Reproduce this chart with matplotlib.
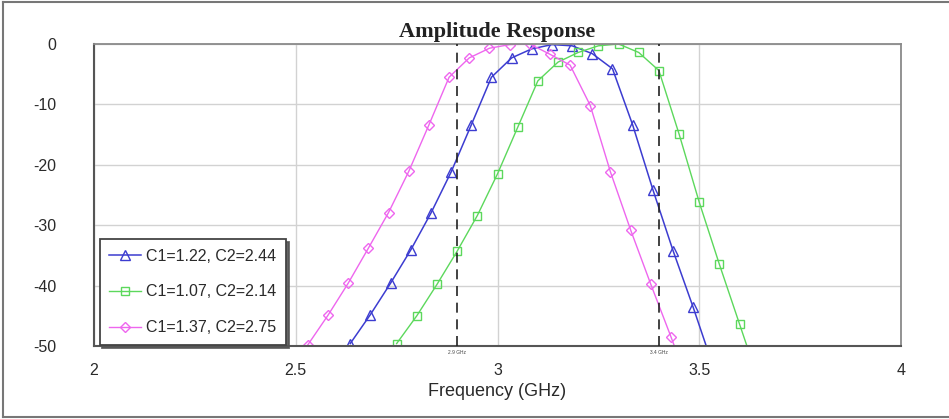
import matplotlib
matplotlib.use("Agg")
import matplotlib.pyplot as plt
from matplotlib.lines import Line2D
import matplotlib.transforms as mtransforms

# curve data (GHz, dB)
freq_blue = [2.635, 2.685, 2.735, 2.785, 2.835, 2.885, 2.935, 2.985, 3.035, 3.085,
             3.135, 3.185, 3.235, 3.285, 3.335, 3.385, 3.435, 3.485, 3.535]
amp_blue = [-49.6, -44.8, -39.6, -34.1, -28.0, -21.2, -13.4, -5.5, -2.3, -0.8,
            -0.1, -0.3, -1.6, -4.1, -13.4, -24.1, -34.2, -43.6, -53.5]

freq_green = [2.75, 2.80, 2.85, 2.90, 2.95, 3.00, 3.05, 3.10, 3.15, 3.20,
              3.25, 3.30, 3.35, 3.40, 3.45, 3.50, 3.55, 3.60, 3.65]
amp_green = [-49.6, -45.0, -39.8, -34.3, -28.4, -21.5, -13.8, -6.1, -3.0, -1.4,
             -0.3, 0.0, -1.4, -4.4, -14.9, -26.2, -36.5, -46.4, -56.3]

freq_pink = [2.53, 2.58, 2.63, 2.68, 2.73, 2.78, 2.83, 2.88, 2.93, 2.98,
             3.03, 3.08, 3.13, 3.18, 3.23, 3.28, 3.33, 3.38, 3.43, 3.48]
amp_pink = [-49.8, -44.9, -39.6, -33.8, -27.9, -21.1, -13.4, -5.5, -2.3, -0.7,
            -0.1, 0.0, -1.7, -3.5, -10.2, -21.2, -30.8, -39.8, -48.5, -57.5]

labels = ["C1=1.22, C2=2.44", "C1=1.07, C2=2.14", "C1=1.37, C2=2.75"]
marker_freqs = [2.9, 3.4]
marker_labels = ["2.9 GHz", "3.4 GHz"]
xticks = [2, 2.5, 3, 3.5, 4]
xticklabels = ["2", "2.5", "3", "3.5", "4"]
yticks = [0, -10, -20, -30, -40, -50]

plt.rcParams["font.family"] = ["Liberation Sans", "DejaVu Sans"]
plt.rcParams["axes.unicode_minus"] = False

fig = plt.figure(figsize=(9.49, 4.19), dpi=100)
ax = fig.add_axes([94 / 949, 1 - 346 / 419, 807 / 949, 302 / 419])

ax.plot(freq_blue, amp_blue, color="#3c3cd0", lw=1.1, marker="^", ms=6.5,
        mfc="none", mew=1.0, label=labels[0])
ax.plot(freq_green, amp_green, color="#5cd85c", lw=1.0, marker="s", ms=6,
        mfc="none", mew=1.0, label=labels[1])
ax.plot(freq_pink, amp_pink, color="#ee66ee", lw=1.0, marker="D", ms=5.5,
        mfc="none", mew=1.0, label=labels[2])

for f in marker_freqs:
    ax.axvline(f, color="#222222", lw=1.2, ls=(0, (6, 4)), zorder=3)
trans = mtransforms.blended_transform_factory(ax.transData, ax.transAxes)
for f, t in zip(marker_freqs, marker_labels):
    ax.text(f, -0.012, t, transform=trans, ha="center", va="top",
            fontsize=3.5, color="#444444")

ax.set_xlim(2, 4)
ax.set_ylim(-50, 0)
ax.set_xticks(xticks)
ax.set_xticklabels(xticklabels)
ax.set_yticks(yticks)
ax.tick_params(length=0, labelsize=11.5, labelcolor="#2a2a2a")
ax.tick_params(axis="y", pad=27)
ax.tick_params(axis="x", pad=12)
ax.grid(True, color="#d2d2d2", lw=1.0)
ax.set_axisbelow(True)
for side in ["top", "right"]:
    ax.spines[side].set_color("#8a8a8a")
    ax.spines[side].set_linewidth(1.3)
for side in ["left", "bottom"]:
    ax.spines[side].set_color("#555555")
    ax.spines[side].set_linewidth(1.5)

ax.set_xlabel("Frequency (GHz)", fontsize=13, color="#2a2a2a", labelpad=4)
ax.set_title("Amplitude Response", fontsize=16, fontweight="bold",
             family="Liberation Serif", color="#222222", pad=5)

leg = ax.legend(loc="lower left", bbox_to_anchor=(0.007, 0.004), borderaxespad=0,
                fontsize=11.5, labelspacing=1.3, handlelength=2.0, handletextpad=0.3,
                borderpad=0.6, fancybox=False, shadow={"color": "#555555", "alpha": 0.9},
                framealpha=1, edgecolor="#444444", labelcolor="#2a2a2a")
leg.get_frame().set_linewidth(1.3)

# outer frame around the whole picture
for xs, ys in [([3 / 949, 3 / 949], [2 / 419, 1 - 2 / 419]),
               ([3 / 949, 1], [1 - 2 / 419, 1 - 2 / 419]),
               ([3 / 949, 1], [2 / 419, 2 / 419])]:
    fig.add_artist(Line2D(xs, ys, transform=fig.transFigure, color="#777777", lw=1.5))

fig.savefig("out.png", dpi=100)
